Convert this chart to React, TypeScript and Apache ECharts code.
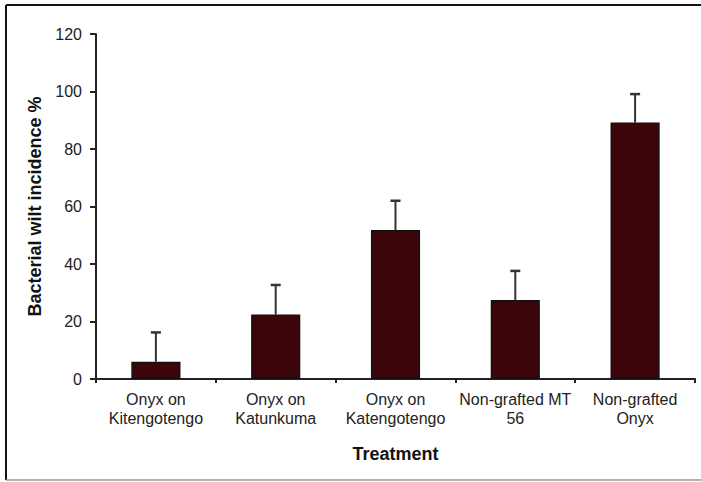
import React, { useEffect, useRef } from "react";
import * as echarts from "echarts";

const categories = [
  "Onyx on\nKitengotengo",
  "Onyx on\nKatunkuma",
  "Onyx on\nKatengotengo",
  "Non-grafted MT\n56",
  "Non-grafted\nOnyx",
];
const incidence = [6.0, 22.4, 51.8, 27.5, 89.2];
const errorTop = [16.2, 32.7, 62.0, 37.6, 99.1];
const yTicks = { min: 0, max: 120, interval: 20 };

const FONT = "'Liberation Sans', Arial, sans-serif";

export default function App() {
  const ref = useRef<HTMLDivElement>(null);

  useEffect(() => {
    document.body.style.margin = "0";
    const chart = echarts.init(ref.current!, null, { renderer: "svg" });
    const errData = incidence.map((v, i) => [i, v, errorTop[i]]);

    chart.setOption({
      animation: false,
      backgroundColor: "#ffffff",
      textStyle: { fontFamily: FONT },
      grid: { left: 96, right: 6, top: 34, bottom: 103 },
      graphic: [
        { type: "line", shape: { x1: 6, y1: 5, x2: 701, y2: 5 }, style: { stroke: "#111", lineWidth: 2 } },
        { type: "line", shape: { x1: 6, y1: 5, x2: 6, y2: 480 }, style: { stroke: "#111", lineWidth: 2 } },
        { type: "line", shape: { x1: 6, y1: 480, x2: 701, y2: 480 }, style: { stroke: "#999", lineWidth: 1.5 } },
      ],
      xAxis: {
        type: "category",
        data: categories,
        boundaryGap: true,
        name: "Treatment",
        nameLocation: "middle",
        nameGap: 66,
        nameTextStyle: { fontFamily: FONT, fontSize: 18, fontWeight: "bold", color: "#111", verticalAlign: "top" },
        axisLine: { lineStyle: { color: "#222", width: 2 } },
        axisTick: { show: true, length: 4, lineStyle: { color: "#222", width: 2 } },
        axisLabel: { fontFamily: FONT, fontSize: 16, color: "#222", margin: 11, lineHeight: 19, interval: 0 },
      },
      yAxis: {
        type: "value",
        min: yTicks.min,
        max: yTicks.max,
        interval: yTicks.interval,
        name: "Bacterial wilt incidence %",
        nameLocation: "middle",
        nameGap: 52,
        nameTextStyle: { fontFamily: FONT, fontSize: 18, fontWeight: "bold", color: "#111" },
        axisLine: { show: true, lineStyle: { color: "#222", width: 2 } },
        axisTick: { show: true, length: 6, lineStyle: { color: "#222", width: 2 } },
        axisLabel: { fontFamily: FONT, fontSize: 16, color: "#222", margin: 14 },
        splitLine: { show: false },
      },
      series: [
        {
          type: "bar",
          data: incidence,
          barWidth: "41%",
          itemStyle: { color: "#3b0509", borderColor: "#111", borderWidth: 1.5 },
          z: 2,
        },
        {
          type: "custom",
          data: errData,
          z: 3,
          renderItem: (params: any, api: any) => {
            const x = api.value(0);
            const base = api.coord([x, api.value(1)]);
            const top = api.coord([x, api.value(2)]);
            const cap = 5;
            return {
              type: "group",
              children: [
                { type: "line", shape: { x1: base[0], y1: base[1], x2: top[0], y2: top[1] }, style: { stroke: "#333", lineWidth: 2 } },
                { type: "line", shape: { x1: top[0] - cap, y1: top[1], x2: top[0] + cap, y2: top[1] }, style: { stroke: "#333", lineWidth: 2.5 } },
              ],
            };
          },
        },
      ],
    });

    return () => chart.dispose();
  }, []);

  return <div ref={ref} style={{ width: 701, height: 482 }} />;
}
